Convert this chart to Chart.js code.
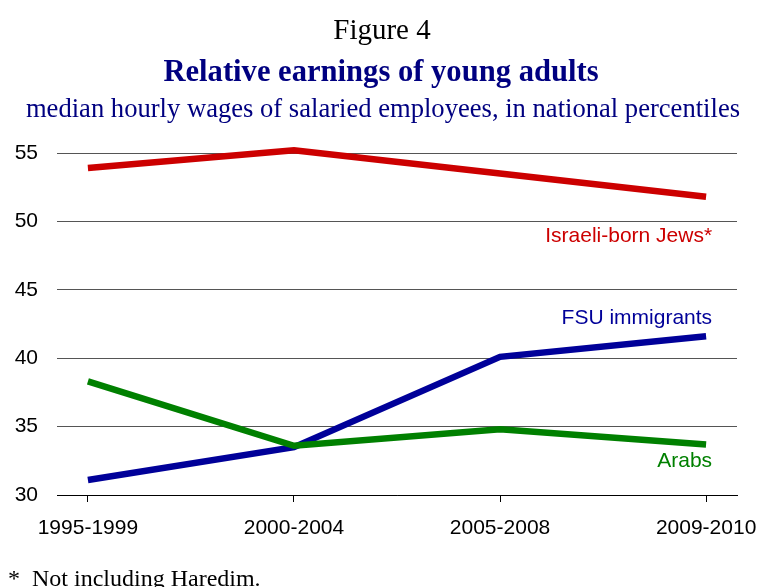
<!DOCTYPE html>
<html>
<head>
<meta charset="utf-8">
<script src="https://cdn.jsdelivr.net/npm/chart.js@4.4.0/dist/chart.umd.min.js"></script>
<style>
    body { margin: 0; background: #fff; }
    #wrap { position: relative; width: 758px; height: 587px; overflow: hidden; }
    #chart { position: absolute; left: 0; top: 0; }
    .txt { position: absolute; left: 0; width: 758px; text-align: center; font-family: "Liberation Serif", "Times New Roman", serif; line-height: 1; white-space: nowrap; }
    #fig { top: 15px; left: 3px; font-size: 29px; color: #000; }
    #title { top: 56px; left: 2px; font-size: 30.6px; font-weight: bold; color: #000080; }
    #subtitle { top: 95px; left: 4px; font-size: 26.6px; color: #000080; }
    #note { top: 566px; left: 8px; width: auto; text-align: left; font-size: 24px; color: #000; }
</style>
</head>
<body>
<div id="wrap">
    <canvas id="chart" width="758" height="587"></canvas>
    <div class="txt" id="fig">Figure 4</div>
    <div class="txt" id="title">Relative earnings of young adults</div>
    <div class="txt" id="subtitle">median hourly wages of salaried employees, in national percentiles</div>
    <div class="txt" id="note">*&nbsp; Not including Haredim.</div>
</div>
<script>
// Periods along the x axis
const periods = ['1995-1999', '2000-2004', '2005-2008', '2009-2010'];

// Median hourly wage, national percentile
const israeliBornJews = [53.9, 55.2, 53.5, 51.8];
const fsuImmigrants = [31.1, 33.5, 40.1, 41.6];
const arabs = [38.3, 33.6, 34.8, 33.7];

const yTicks = [30, 35, 40, 45, 50, 55];

const sansFont = '"Liberation Sans", Arial, sans-serif';

function toPoints(values) {
    return values.map((v, i) => ({ x: i, y: v }));
}

// Series names written next to the last point of each line
const endLabels = {
    id: 'endLabels',
    afterDatasetsDraw(chart) {
        const ctx = chart.ctx;
        ctx.save();
        ctx.font = '21px ' + sansFont;
        ctx.textAlign = 'right';
        ctx.textBaseline = 'middle';
        chart.data.datasets.forEach((ds, i) => {
            const pts = chart.getDatasetMeta(i).data;
            const last = pts[pts.length - 1];
            ctx.fillStyle = ds.borderColor;
            ctx.fillText(ds.label, last.x + 6, last.y + ds.labelOffset);
        });
        ctx.restore();
    }
};

new Chart(document.getElementById('chart').getContext('2d'), {
    type: 'line',
    data: {
        datasets: [
            {
                label: 'Israeli-born Jews*',
                data: toPoints(israeliBornJews),
                borderColor: '#CC0000',
                labelOffset: 39
            },
            {
                label: 'Arabs',
                data: toPoints(arabs),
                borderColor: '#008000',
                labelOffset: 17
            },
            {
                label: 'FSU immigrants',
                data: toPoints(fsuImmigrants),
                borderColor: '#000099',
                labelOffset: -18
            }
        ]
    },
    options: {
        responsive: false,
        animation: false,
        events: [],
        layout: {
            padding: { top: 153, right: 21, bottom: 42, left: 0 }
        },
        elements: {
            line: { borderWidth: 6.5, tension: 0, fill: false, borderCapStyle: 'butt', borderJoinStyle: 'miter' },
            point: { radius: 0 }
        },
        datasets: {
            line: { clip: false }
        },
        plugins: {
            legend: { display: false },
            tooltip: { enabled: false }
        },
        scales: {
            x: {
                type: 'linear',
                min: -0.15,
                max: 3.15,
                afterBuildTicks: scale => {
                    scale.ticks = periods.map((p, i) => ({ value: i }));
                },
                afterFit: scale => {
                    scale.height = 50;
                    // let the end labels hang past the plot edges
                    scale.paddingLeft = 0;
                    scale.paddingRight = 0;
                },
                grid: {
                    drawOnChartArea: false,
                    drawTicks: true,
                    tickLength: 7,
                    color: '#000',
                    lineWidth: 1
                },
                border: { display: true, color: '#000', width: 1 },
                ticks: {
                    padding: 14,
                    maxRotation: 0,
                    color: '#000',
                    font: { family: sansFont, size: 21 },
                    callback: value => periods[value]
                }
            },
            y: {
                min: 30,
                max: 55,
                afterBuildTicks: scale => {
                    scale.ticks = yTicks.map(v => ({ value: v }));
                },
                afterFit: scale => {
                    scale.width = 57;
                    scale.paddingTop = 0;
                    scale.paddingBottom = 0;
                },
                grid: {
                    drawTicks: false,
                    color: '#555',
                    lineWidth: 1
                },
                border: { display: false },
                ticks: {
                    padding: 19,
                    color: '#000',
                    font: { family: sansFont, size: 21 }
                }
            }
        }
    },
    plugins: [endLabels]
});
</script>
</body>
</html>
